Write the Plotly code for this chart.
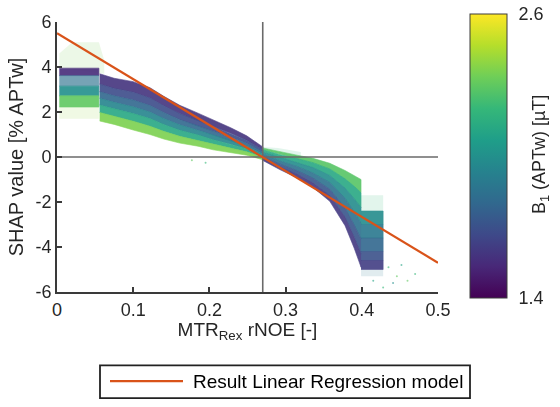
import plotly.graph_objects as go
from plotly.colors import sample_colorscale

# ---------------- data ----------------
B1_MIN, B1_MAX = 1.4, 2.6

# left block (x < 0.055): edges of colour bands, top -> bottom
LEFT_BLOCK_X = [0.003, 0.055]
LEFT_BLOCK_EDGES = [[3.95, 3.95], [3.62, 3.62], [3.15, 3.15], [2.72, 2.72], [2.22, 2.22]]
LEFT_BLOCK_B1 = [1.55, 1.85, 2.0, 2.3]

# left main cloud (0.056 .. 0.27), band edges top -> bottom
LEFT_X = [0.056, 0.075, 0.100, 0.122, 0.140, 0.161, 0.185, 0.205, 0.228, 0.249, 0.270]
LEFT_EDGES = [
    [3.70, 3.50, 3.35, 3.08, 2.70, 2.30, 1.95, 1.65, 1.30, 0.94, 0.45],
    [3.24, 3.05, 2.88, 2.62, 2.28, 1.93, 1.63, 1.36, 1.06, 0.75, 0.32],
    [2.90, 2.72, 2.53, 2.29, 1.98, 1.66, 1.39, 1.14, 0.88, 0.61, 0.23],
    [2.61, 2.43, 2.23, 2.00, 1.71, 1.43, 1.19, 0.96, 0.73, 0.49, 0.15],
    [2.31, 2.15, 1.93, 1.71, 1.45, 1.19, 0.98, 0.77, 0.57, 0.37, 0.07],
    [1.98, 1.82, 1.59, 1.37, 1.14, 0.92, 0.74, 0.56, 0.40, 0.23, -0.02],
    [1.60, 1.45, 1.20, 1.00, 0.80, 0.62, 0.48, 0.32, 0.20, 0.08, -0.12],
]
LEFT_B1 = [1.58, 1.68, 1.80, 1.95, 2.12, 2.36]

# right main cloud (0.27 .. 0.399), band edges top -> bottom
RIGHT_X = [0.270, 0.293, 0.315, 0.336, 0.358, 0.378, 0.390, 0.399]
RIGHT_EDGES = [
    [0.40, 0.22, 0.08, -0.06, -0.28, -0.60, -0.82, -1.00],
    [0.32, 0.10, -0.07, -0.25, -0.53, -0.97, -1.30, -1.59],
    [0.22, -0.03, -0.24, -0.47, -0.82, -1.38, -1.85, -2.25],
    [0.13, -0.18, -0.42, -0.71, -1.13, -1.83, -2.44, -2.95],
    [0.03, -0.32, -0.60, -0.94, -1.43, -2.27, -3.02, -3.65],
    [-0.07, -0.45, -0.77, -1.16, -1.72, -2.68, -3.57, -4.32],
    [-0.15, -0.57, -0.92, -1.35, -1.97, -3.05, -4.05, -4.90],
]
RIGHT_B1 = [2.28, 2.12, 1.98, 1.85, 1.72, 1.60]

# block at high rNOE (0.399 .. 0.428)
BLOCK_X = [0.399, 0.428]
BLOCK_EDGES = [[-2.4, -2.4], [-3.0, -3.0], [-3.6, -3.6], [-4.2, -4.2], [-4.6, -4.6], [-5.0, -5.0]]
BLOCK_B1 = [1.98, 1.88, 1.80, 1.70, 1.62]

# sparse (low density) areas: x, y outlines and B1
SPARSE_AREAS = [
    ([0.003, 0.020, 0.055, 0.062, 0.062, 0.003], [4.6, 5.1, 5.1, 4.3, 3.7, 3.95], 2.35),
    ([0.003, 0.055, 0.055, 0.003], [2.22, 2.22, 1.70, 1.70], 2.4),
    ([0.399, 0.428, 0.428, 0.399], [-1.70, -1.70, -2.40, -2.40], 2.2),
    ([0.399, 0.428, 0.428, 0.399], [-5.0, -5.0, -5.3, -5.3], 1.9),
    ([0.27, 0.29, 0.32, 0.32, 0.27], [0.45, 0.40, 0.22, 0.05, 0.40], 2.2),
]

# scattered outliers
OUTLIER_X = [0.435, 0.446, 0.452, 0.460, 0.470, 0.428, 0.441, 0.415, 0.177, 0.195]
OUTLIER_Y = [-4.9, -5.3, -4.8, -5.5, -5.2, -5.8, -5.6, -5.5, -0.14, -0.25]
OUTLIER_B1 = [2.2, 2.3, 2.1, 2.3, 2.2, 2.2, 2.0, 2.1, 2.3, 2.2]

# regression model and reference lines
REG_X = [0.0, 0.5]
REG_Y = [5.5, -4.7]
CROSS_X = 0.27

X_TICKS = [0, 0.1, 0.2, 0.3, 0.4, 0.5]
X_TICK_TEXT = ["0", "0.1", "0.2", "0.3", "0.4", "0.5"]
Y_TICKS = [-6, -4, -2, 0, 2, 4, 6]
Y_TICK_TEXT = ["-6", "-4", "-2", "0", "2", "4", "6"]

FONT = "Liberation Sans, Arial, sans-serif"
TXT = "#262626"
AX = "#3a3a3a"


def vcol(b):
    return sample_colorscale("Viridis", [(b - B1_MIN) / (B1_MAX - B1_MIN)])[0]


def add_band(fig, xs, upper, lower, b1, opacity=0.9):
    px = list(xs) + list(xs)[::-1]
    py = list(upper) + list(lower)[::-1]
    fig.add_trace(go.Scatter(x=px, y=py, mode="lines", fill="toself",
                             fillcolor=vcol(b1), line=dict(width=0.6, color=vcol(b1)),
                             opacity=opacity, showlegend=False, hoverinfo="skip"))


fig = go.Figure()

# sparse areas first
for xs, ys, b in SPARSE_AREAS:
    fig.add_trace(go.Scatter(x=xs, y=ys, mode="lines", fill="toself",
                             fillcolor=vcol(b), line=dict(width=0), opacity=0.14,
                             showlegend=False, hoverinfo="skip"))

fig.add_trace(go.Scatter(x=OUTLIER_X, y=OUTLIER_Y, mode="markers",
                         marker=dict(size=2, color=[vcol(b) for b in OUTLIER_B1]),
                         opacity=0.6, showlegend=False, hoverinfo="skip"))

for i, b in enumerate(LEFT_BLOCK_B1):
    add_band(fig, LEFT_BLOCK_X, LEFT_BLOCK_EDGES[i], LEFT_BLOCK_EDGES[i + 1], b,
             opacity=0.65 if i == 1 else 0.9)

for i, b in enumerate(LEFT_B1):
    add_band(fig, LEFT_X, LEFT_EDGES[i], LEFT_EDGES[i + 1], b)

for i, b in enumerate(RIGHT_B1):
    add_band(fig, RIGHT_X, RIGHT_EDGES[i], RIGHT_EDGES[i + 1], b)

for i, b in enumerate(BLOCK_B1):
    add_band(fig, BLOCK_X, BLOCK_EDGES[i], BLOCK_EDGES[i + 1], b)

# reference lines
fig.add_trace(go.Scatter(x=[CROSS_X, CROSS_X], y=[-6, 6], mode="lines",
                         line=dict(color="#6a6a6a", width=1.6),
                         showlegend=False, hoverinfo="skip"))
fig.add_trace(go.Scatter(x=[0, 0.5], y=[0, 0], mode="lines",
                         line=dict(color="#6a6a6a", width=1.6),
                         showlegend=False, hoverinfo="skip"))

# regression line
fig.add_trace(go.Scatter(x=REG_X, y=REG_Y, mode="lines",
                         line=dict(color="#D95319", width=2.2),
                         name="Result Linear Regression model", showlegend=False))

# colour bar carrier
fig.add_trace(go.Scatter(
    x=[None], y=[None], mode="markers", showlegend=False, hoverinfo="skip",
    marker=dict(color=[B1_MIN], colorscale="Viridis", cmin=B1_MIN, cmax=B1_MAX,
                showscale=True,
                colorbar=dict(x=1.084, xanchor="left", xpad=0, ypad=0,
                              y=0.5036, yanchor="middle",
                              thickness=37, thicknessmode="pixels",
                              len=284, lenmode="pixels",
                              outlinecolor="#3c3c3c", outlinewidth=1,
                              tickvals=[1.4, 2.6], ticktext=["1.4", "2.6"],
                              ticks="outside", ticklen=8, tickcolor="rgba(0,0,0,0)",
                              tickfont=dict(size=18, color=TXT, family=FONT)))))

# legend box (drawn by hand to match the long line sample)
LEG_X0, LEG_X1 = (100 - 57) / 381, (470 - 57) / 381
LEG_Y0, LEG_Y1 = (292 - 402) / 280, (292 - 368) / 280
LEG_YM = (292 - 384.5) / 280
fig.add_shape(type="rect", xref="paper", yref="paper", x0=LEG_X0, x1=LEG_X1,
              y0=LEG_Y0, y1=LEG_Y1, line=dict(color="#222222", width=1.8),
              fillcolor="white")
fig.add_shape(type="line", xref="paper", yref="paper", x0=(110 - 57) / 381,
              x1=(183 - 57) / 381, y0=LEG_YM, y1=LEG_YM,
              line=dict(color="#D95319", width=2.2))
fig.add_annotation(xref="paper", yref="paper", x=(191 - 57) / 381, y=LEG_YM,
                   xanchor="left", yanchor="middle", showarrow=False,
                   text="Result Linear Regression model",
                   font=dict(size=19, color="#000000", family=FONT))

# colour bar title
fig.add_annotation(xref="paper", yref="paper", x=(540 - 57) / 381, y=(292 - 150) / 280,
                   xanchor="center", yanchor="middle", showarrow=False, textangle=-90,
                   text="B<sub>1</sub> (APTw) [µT]",
                   font=dict(size=18, color=TXT, family=FONT))

fig.update_layout(
    width=560, height=407,
    margin=dict(l=57, r=122, t=12, b=115),
    paper_bgcolor="white", plot_bgcolor="white",
    font=dict(family=FONT, color=TXT, size=18),
    xaxis=dict(range=[0, 0.5], tickvals=X_TICKS, ticktext=X_TICK_TEXT,
               ticks="inside", ticklen=5, tickwidth=1.5, tickcolor=AX,
               showline=True, linecolor=AX, linewidth=1.8, mirror=False,
               showgrid=False, zeroline=False,
               tickfont=dict(size=18, color=TXT),
               title=dict(text="MTR<sub>Rex</sub> rNOE [-]", font=dict(size=19, color=TXT),
                          standoff=4)),
    yaxis=dict(range=[-6, 6], tickvals=Y_TICKS, ticktext=Y_TICK_TEXT,
               ticks="inside", ticklen=5, tickwidth=1.5, tickcolor=AX,
               showline=True, linecolor=AX, linewidth=1.8, mirror=False,
               showgrid=False, zeroline=False,
               tickfont=dict(size=18, color=TXT),
               title=dict(text="SHAP value [% APTw]", font=dict(size=20, color=TXT),
                          standoff=6)),
)

fig.write_html("out.html")
